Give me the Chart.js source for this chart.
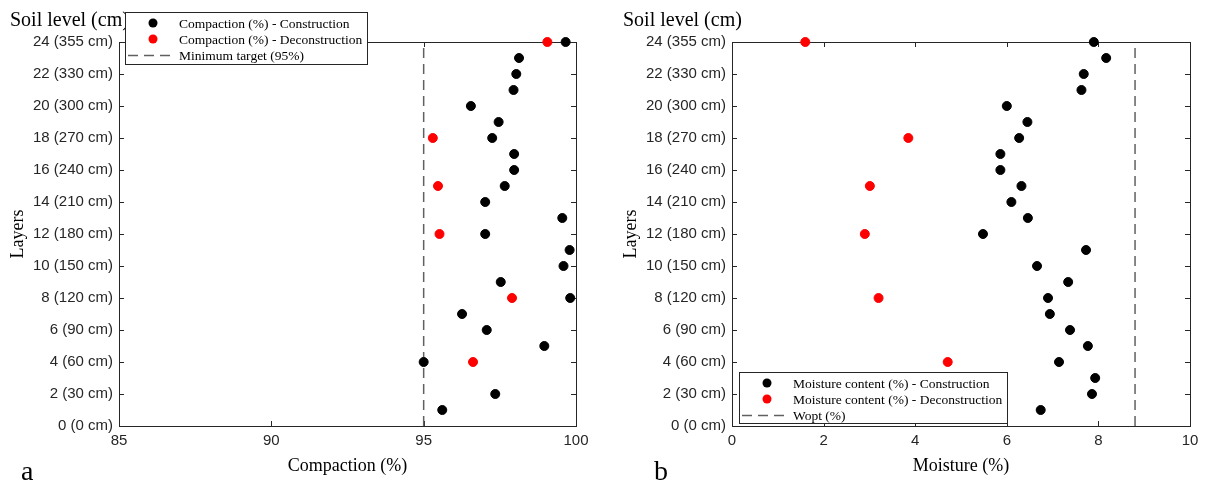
<!DOCTYPE html>
<html>
<head>
<meta charset="utf-8">
<script src="https://cdn.jsdelivr.net/npm/chart.js@4.4.1/dist/chart.umd.min.js"></script>
<style>
  body { margin: 0; background: #fff; }
  #wrap { position: relative; width: 1207px; height: 486px; background: #fff; }
  canvas { position: absolute; top: 0; }
</style>
</head>
<body>
<div id="wrap">
  <canvas id="chartA" width="603" height="486" style="left:0px"></canvas>
  <canvas id="chartB" width="594" height="486" style="left:613px"></canvas>
</div>
<script>
// layers 1..24 (bottom to top)
const layers = [1, 2, 3, 4, 5, 6, 7, 8, 9, 10, 11, 12, 13, 14, 15, 16, 17, 18, 19, 20, 21, 22, 23, 24];
const compactionCon = [95.61, 97.35, null, 95.0, 98.96, 97.07, 96.26, 99.81, 97.53, 99.59, 99.79, 97.02,
  99.55, 97.02, 97.66, 97.97, 97.97, 97.25, 97.46, 96.55, 97.95, 98.04, 98.13, 99.66];
const moistureCon = [6.74, 7.86, 7.93, 7.14, 7.77, 7.38, 6.94, 6.90, 7.34, 6.66, 7.73, 5.48,
  6.46, 6.10, 6.32, 5.86, 5.86, 6.27, 6.45, 6.00, 7.63, 7.68, 8.17, 7.90];

// deconstruction samples
const layersDec = [4, 8, 12, 15, 18, 24];
const compactionDec = [96.62, 97.9, 95.52, 95.47, 95.3, 99.06];
const moistureDec = [4.71, 3.20, 2.90, 3.01, 3.85, 1.60];

const minTarget = 95;
const wopt = 8.8;

const yTickLabels = ['0 (0 cm)', '2 (30 cm)', '4 (60 cm)', '6 (90 cm)', '8 (120 cm)', '10 (150 cm)',
  '12 (180 cm)', '14 (210 cm)', '16 (240 cm)', '18 (270 cm)', '20 (300 cm)', '22 (330 cm)', '24 (355 cm)'];

const SERIF = '"Liberation Serif", "Times New Roman", serif';
const SANS = '"Liberation Sans", Arial, sans-serif';
const AXIS_COLOR = '#262626';

function toPoints(ys, xs) {
  const pts = [];
  ys.forEach((y, i) => { if (xs[i] != null) pts.push({ x: xs[i], y: y }); });
  return pts;
}

// frame, inward ticks, headings and boxed legend
const decorPlugin = {
  id: 'decor',
  beforeDatasetsDraw(chart) {
    const ctx = chart.ctx;
    const a = chart.chartArea;
    const sx = chart.scales.x, sy = chart.scales.y;
    ctx.save();
    ctx.strokeStyle = AXIS_COLOR;
    ctx.lineWidth = 1;
    ctx.strokeRect(a.left + 0.5, a.top + 0.5, a.right - a.left, a.bottom - a.top);
    ctx.beginPath();
    sy.ticks.forEach(t => {
      const p = Math.round(sy.getPixelForValue(t.value)) + 0.5;
      ctx.moveTo(a.left, p); ctx.lineTo(a.left + 5, p);
      ctx.moveTo(a.right, p); ctx.lineTo(a.right - 5, p);
    });
    sx.ticks.forEach(t => {
      const p = Math.round(sx.getPixelForValue(t.value)) + 0.5;
      ctx.moveTo(p, a.bottom); ctx.lineTo(p, a.bottom - 5);
      ctx.moveTo(p, a.top); ctx.lineTo(p, a.top + 5);
    });
    ctx.stroke();
    ctx.restore();
  },
  afterDraw(chart, args, opts) {
    const ctx = chart.ctx;
    ctx.save();
    ctx.fillStyle = '#000';
    ctx.textBaseline = 'alphabetic';
    ctx.textAlign = 'left';
    ctx.font = '20px ' + SERIF;
    ctx.fillText('Soil level (cm)', 10, 26);
    ctx.font = '28px ' + SERIF;
    ctx.fillText(opts.letter, opts.letterX, 480);

    // legend box
    const b = opts.box;
    ctx.fillStyle = '#fff';
    ctx.fillRect(b.x, b.y, b.w, b.h);
    ctx.strokeStyle = AXIS_COLOR;
    ctx.lineWidth = 1;
    ctx.strokeRect(b.x + 0.5, b.y + 0.5, b.w, b.h);
    ctx.font = '13.5px ' + SERIF;
    ctx.textBaseline = 'middle';
    chart.data.datasets.forEach((ds, i) => {
      const cy = b.y + 11 + i * 16;
      if (ds.showLine) {
        ctx.strokeStyle = ds.borderColor;
        ctx.lineWidth = ds.borderWidth;
        ctx.setLineDash(ds.borderDash);
        ctx.beginPath();
        ctx.moveTo(b.x + 3, cy + 0.5);
        ctx.lineTo(b.x + 48, cy + 0.5);
        ctx.stroke();
        ctx.setLineDash([]);
      } else {
        ctx.fillStyle = ds.backgroundColor;
        ctx.beginPath();
        ctx.arc(b.x + 28, cy, 4.5, 0, Math.PI * 2);
        ctx.fill();
      }
      ctx.fillStyle = '#000';
      ctx.fillText(ds.label, b.x + 54, cy + 1);
    });
    ctx.restore();
  }
};

function makePanel(canvasId, cfg) {
  return new Chart(document.getElementById(canvasId), {
    type: 'scatter',
    data: {
      datasets: [
        {
          label: cfg.labels[0],
          data: toPoints(layers, cfg.con),
          backgroundColor: '#000000',
          borderColor: '#000000',
          pointRadius: 4.5,
          pointHoverRadius: 4.5,
          clip: false
        },
        {
          label: cfg.labels[1],
          data: toPoints(layersDec, cfg.dec),
          backgroundColor: '#ff0000',
          borderColor: '#ff0000',
          pointRadius: 4.5,
          pointHoverRadius: 4.5,
          clip: false
        },
        {
          label: cfg.labels[2],
          data: [{ x: cfg.ref, y: 0 }, { x: cfg.ref, y: 24 }],
          showLine: true,
          borderColor: '#606060',
          borderWidth: 1.5,
          borderDash: [10, 6],
          pointRadius: 0,
          clip: false
        }
      ]
    },
    options: {
      responsive: false,
      animation: false,
      devicePixelRatio: 1,
      layout: { padding: { left: 0, top: 42, right: cfg.padRight, bottom: 0 } },
      plugins: {
        legend: { display: false },
        tooltip: { enabled: false },
        decor: { letter: cfg.letter, letterX: cfg.letterX, box: cfg.box }
      },
      scales: {
        x: {
          type: 'linear',
          min: cfg.xMin,
          max: cfg.xMax,
          afterFit(scale) { scale.height = 60; },
          grid: { display: false, drawTicks: false },
          border: { display: false },
          ticks: { stepSize: cfg.xStep, padding: 6, color: AXIS_COLOR, font: { family: SANS, size: 15 } },
          title: {
            display: true,
            text: cfg.xTitle,
            color: '#000',
            font: { family: SERIF, size: 18 },
            padding: { top: 0, bottom: 9 }
          }
        },
        y: {
          type: 'linear',
          min: 0,
          max: 24,
          afterFit(scale) { scale.width = 119; },
          grid: { display: false, drawTicks: false },
          border: { display: false },
          ticks: {
            stepSize: 2,
            padding: 6,
            color: AXIS_COLOR,
            font: { family: SANS, size: 15 },
            callback: v => yTickLabels[v / 2]
          },
          title: {
            display: true,
            text: 'Layers',
            color: '#000',
            font: { family: SERIF, size: 18 },
            padding: { top: 7, bottom: 0 }
          }
        }
      }
    },
    plugins: [decorPlugin]
  });
}

makePanel('chartA', {
  con: compactionCon,
  dec: compactionDec,
  ref: minTarget,
  labels: ['Compaction (%) - Construction', 'Compaction (%) - Deconstruction', 'Minimum target (95%)'],
  xMin: 85, xMax: 100, xStep: 5,
  xTitle: 'Compaction (%)',
  padRight: 27,
  letter: 'a', letterX: 21,
  box: { x: 125, y: 12, w: 242, h: 52 }
});

makePanel('chartB', {
  con: moistureCon,
  dec: moistureDec,
  ref: wopt,
  labels: ['Moisture content (%) - Construction', 'Moisture content (%) - Deconstruction', 'Wopt (%)'],
  xMin: 0, xMax: 10, xStep: 2,
  xTitle: 'Moisture (%)',
  padRight: 17,
  letter: 'b', letterX: 41,
  box: { x: 126, y: 372, w: 268, h: 51 }
});
</script>
</body>
</html>
